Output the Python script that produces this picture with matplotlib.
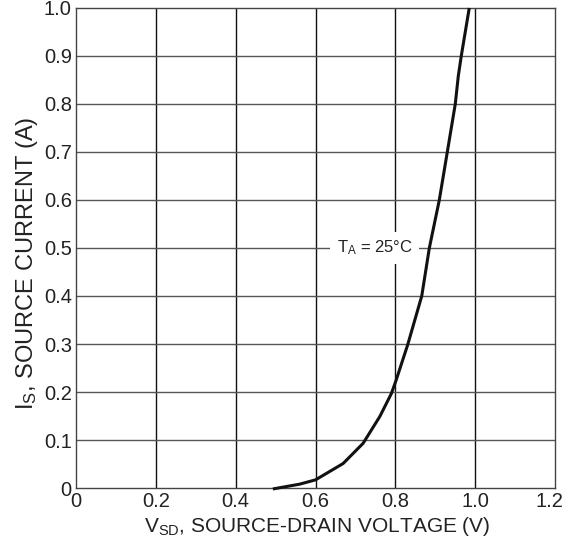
import matplotlib
matplotlib.use("Agg")
import matplotlib.pyplot as plt
import matplotlib.transforms as mtransforms

# curve
v_sd = [0.493, 0.56, 0.60, 0.669, 0.719, 0.761, 0.79, 0.802, 0.831, 0.866,
        0.885, 0.91, 0.93, 0.95, 0.9575, 0.965, 0.985]
i_s = [-0.002, 0.008, 0.017, 0.051, 0.093, 0.149, 0.197, 0.225, 0.299, 0.40,
       0.50, 0.60, 0.70, 0.80, 0.858, 0.90, 1.0]

x_ticks = [0, 0.2, 0.4, 0.6, 0.8, 1.0, 1.2]
x_tick_labels = ["0", "0.2", "0.4", "0.6", "0.8", "1.0", "1.2"]
y_ticks = [0, 0.1, 0.2, 0.3, 0.4, 0.5, 0.6, 0.7, 0.8, 0.9, 1.0]
y_tick_labels = ["0", "0.1", "0.2", "0.3", "0.4", "0.5", "0.6", "0.7", "0.8", "0.9", "1.0"]

plt.rcParams.update({
    "font.family": ["Liberation Sans", "DejaVu Sans"],
    "mathtext.fontset": "custom",
    "mathtext.rm": "Liberation Sans",
    "mathtext.it": "Liberation Sans",
    "mathtext.default": "regular",
})

fig = plt.figure(figsize=(5.64, 5.39), dpi=100)
ax = fig.add_axes([0.1348, 0.0946, 0.8494, 0.8906])

ax.set_xlim(0, 1.2)
ax.set_ylim(0, 1.0)
ax.set_xticks(x_ticks)
ax.set_xticklabels(x_tick_labels)
ax.set_yticks(y_ticks)
ax.set_yticklabels(y_tick_labels)
ax.tick_params(length=0, labelsize=14.5, colors="#222222")
ax.tick_params(axis="x", pad=3)
ax.tick_params(axis="y", pad=3)

# nudge the last x label so it stays inside the figure
last = ax.get_xticklabels()[-1]
last.set_transform(last.get_transform() + mtransforms.ScaledTranslation(-6 / 100, 0, fig.dpi_scale_trans))

for x in x_ticks[1:-1]:
    ax.axvline(x, color="#111111", lw=1.0, zorder=1)
for y in y_ticks[1:-1]:
    ax.axhline(y, color="#555555", lw=1.0, zorder=1)
for spine in ax.spines.values():
    spine.set_color("#444444")
    spine.set_linewidth(1.0)

ax.plot(v_sd, i_s, color="#111111", lw=2.2, solid_capstyle="butt", clip_on=False, zorder=3)

ax.text(0.748, 0.50, "T$_A$ = 25°C", fontsize=12, color="#222222",
        ha="center", va="center", zorder=4,
        bbox=dict(boxstyle="square,pad=0.4", facecolor="white", edgecolor="none"))

ax.set_xlabel("V$_{SD}$, SOURCE-DRAIN VOLTAGE (V)", fontsize=15, color="#222222")
ax.set_ylabel("I$_S$, SOURCE CURRENT (A)", fontsize=17, color="#222222")
ax.xaxis.set_label_coords(0.503, -0.056)
ax.yaxis.set_label_coords(-0.075, 0.468)

fig.savefig("out.png", dpi=100)
